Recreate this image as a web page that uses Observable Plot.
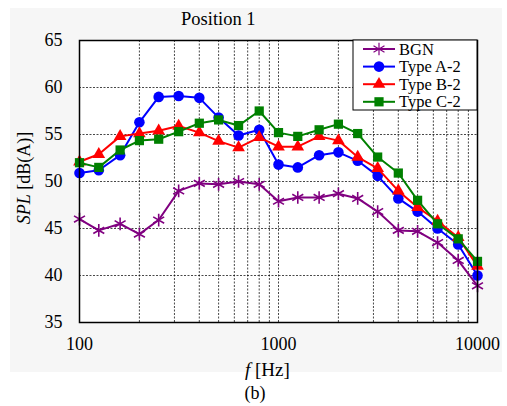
<!DOCTYPE html>
<html>
<head>
<meta charset="utf-8">
<script src="https://cdn.jsdelivr.net/npm/d3@7"></script>
<script src="https://cdn.jsdelivr.net/npm/@observablehq/plot@0.6"></script>
<style>
html, body { margin: 0; padding: 0; background: white; }
</style>
</head>
<body>
<div id="chart"></div>
<script>
const freqs = [100,125,160,200,250,315,400,500,630,800,1000,1250,1600,2000,2500,3150,4000,5000,6300,8000,10000];
const bgn   = [46.0,44.8,45.5,44.4,45.9,49.0,49.8,49.7,50.0,49.7,47.9,48.3,48.3,48.7,48.2,46.8,44.8,44.7,43.5,41.6,38.9];
const typeA = [50.9,51.2,52.8,56.3,59.0,59.1,58.9,56.8,54.9,55.5,51.8,51.5,52.8,53.1,52.2,50.6,48.2,46.8,45.0,43.3,40.0];
const typeB = [52.1,52.9,54.8,55.1,55.4,55.9,55.2,54.3,53.6,54.7,53.7,53.7,54.8,54.35,52.6,51.4,49.0,47.25,45.8,44.05,41.0];
const typeC = [52.0,51.5,53.35,54.35,54.5,55.3,56.2,56.55,55.95,57.5,55.2,54.8,55.5,56.1,55.1,52.6,50.9,48.0,45.5,43.9,41.5];
const seriesNames = ["BGN","Type A-2","Type B-2","Type C-2"];
const seriesColors = ["#800080","#0000ff","#ff0000","#008000"];
const seriesSymbols = ["asterisk","circle","triangle","square"];
const xTicks = [100,1000,10000];
const yTicks = [35,40,45,50,55,60,65];
const xGrid = [200,300,400,500,600,700,800,900,1000,2000,3000,4000,5000,6000,7000,8000,9000];
const yGrid = [40,45,50,55,60];

const allSeries = [bgn, typeA, typeB, typeC];
const symR = {asterisk: 6, circle: 5.3, triangle: 4.7, square: 5.2};
const font = "'Liberation Serif', 'Times New Roman', 'DejaVu Serif', serif";

const marks = [
  Plot.frame({fill: "white"}),
  Plot.ruleX(xGrid, {stroke: "black", strokeWidth: 0.8, strokeDasharray: "2,1.5", strokeOpacity: 0.9}),
  Plot.ruleY(yGrid, {stroke: "black", strokeWidth: 0.8, strokeDasharray: "2,1.5", strokeOpacity: 0.9}),
];
allSeries.forEach((vals, i) => {
  const data = freqs.map((f, j) => ({f, v: vals[j]}));
  marks.push(Plot.line(data, {x: "f", y: "v", stroke: seriesColors[i], strokeWidth: 2}));
  const sym = seriesSymbols[i];
  if (sym === "asterisk") {
    marks.push(Plot.dot(data, {x: "f", y: "v", symbol: sym, r: symR[sym], stroke: seriesColors[i], strokeWidth: 1.6}));
  } else {
    marks.push(Plot.dot(data, {x: "f", y: "v", symbol: sym, r: symR[sym], fill: seriesColors[i], stroke: "none"}));
  }
});
marks.push(Plot.frame({stroke: "black", strokeWidth: 1.5}));
marks.push(Plot.axisX(xTicks, {tickSize: 0, tickPadding: 15, fontSize: 18, label: null, tickFormat: d => String(d)}));
marks.push(Plot.axisY(yTicks, {tickSize: 0, tickPadding: 17, fontSize: 18, label: null, tickFormat: d => String(d)}));

const chart = Plot.plot({
  width: 507,
  height: 406,
  marginLeft: 79,
  marginRight: 30,
  marginTop: 40,
  marginBottom: 84,
  style: {fontFamily: font, background: "transparent", color: "black"},
  x: {type: "log", domain: [100, 10000]},
  y: {domain: [35, 65]},
  marks
});
chart.setAttribute("font-family", font);

const svg = d3.select(chart);
svg.insert("rect", ":first-child")
  .attr("x", 10).attr("y", 8).attr("width", 492).attr("height", 364)
  .attr("fill", "#f6f6f6");

svg.append("text").attr("x", 181).attr("y", 25).attr("text-anchor", "start")
  .attr("font-family", font).attr("font-size", 18.5).attr("fill", "black")
  .text("Position 1");

const yl = svg.append("text")
  .attr("transform", "translate(30,178) rotate(-90)")
  .attr("text-anchor", "middle")
  .attr("font-family", font).attr("font-size", 18).attr("fill", "black");
yl.append("tspan").attr("font-style", "italic").text("SPL");
yl.append("tspan").text(" [dB(A)]");

const xl = svg.append("text").attr("x", 245).attr("y", 376).attr("text-anchor", "start")
  .attr("font-family", font).attr("font-size", 19).attr("fill", "black");
xl.append("tspan").attr("font-style", "italic").text("f");
xl.append("tspan").text(" [Hz]");

svg.append("text").attr("x", 255).attr("y", 399).attr("text-anchor", "middle")
  .attr("font-family", font).attr("font-size", 18).attr("fill", "black")
  .text("(b)");

// legend
const lg = svg.append("g");
lg.append("rect").attr("x", 353).attr("y", 40).attr("width", 124).attr("height", 70)
  .attr("fill", "white").attr("stroke", "black").attr("stroke-width", 1);
const rowY = [49, 66.6, 84.2, 101.8];
const d3Sym = {asterisk: d3.symbolAsterisk, circle: d3.symbolCircle, triangle: d3.symbolTriangle, square: d3.symbolSquare};
seriesNames.forEach((name, i) => {
  const y = rowY[i];
  lg.append("line").attr("x1", 363).attr("x2", 395).attr("y1", y).attr("y2", y)
    .attr("stroke", seriesColors[i]).attr("stroke-width", 2);
  const sym = seriesSymbols[i];
  const r = symR[sym];
  const p = lg.append("path").attr("transform", `translate(379,${y})`)
    .attr("d", d3.symbol(d3Sym[sym], Math.PI * r * r)());
  if (sym === "asterisk") p.attr("fill", "none").attr("stroke", seriesColors[i]).attr("stroke-width", 1.2);
  else p.attr("fill", seriesColors[i]);
  lg.append("text").attr("x", 399).attr("y", y + 5.5).attr("text-anchor", "start")
    .attr("font-family", font).attr("font-size", 16.5).attr("fill", "black").text(name);
});

document.getElementById("chart").appendChild(chart);
</script>
</body>
</html>
